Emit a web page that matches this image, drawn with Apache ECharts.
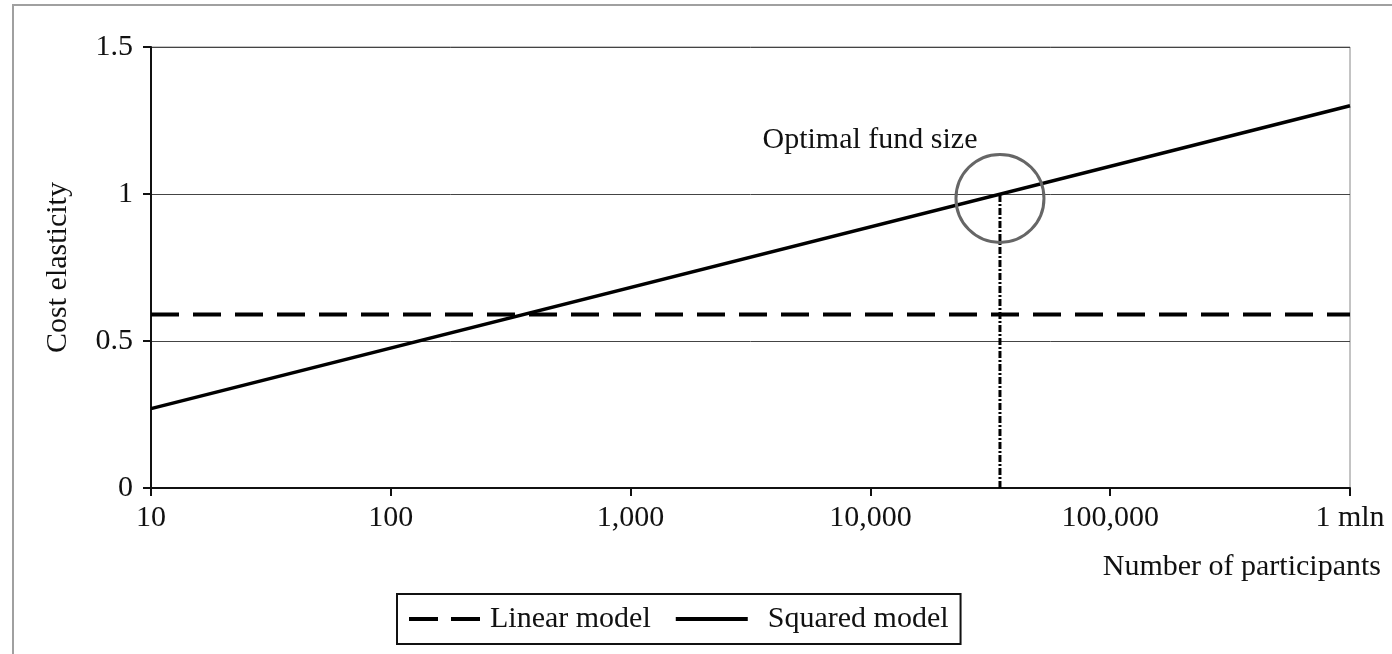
<!DOCTYPE html>
<html><head><meta charset="utf-8">
<script src="https://cdn.jsdelivr.net/npm/echarts@6/dist/echarts.min.js"></script>
<style>html,body{margin:0;padding:0;background:#fff}#c{width:1392px;height:654px}</style>
</head><body><div id="c"></div>
<script>
const xTicks = [10, 100, 1000, 10000, 100000, 1000000];
const xTickLabels = ['10', '100', '1,000', '10,000', '100,000', '1 mln'];
const linearX = [10, 1000000];
const linearY = [0.59, 0.59];
const squaredX = [10, 1000000];
const squaredY = [0.27, 1.30];
const optimalX = 34700;
const optimalY = [0, 1];
const circleY = 0.985;
const F = 'Liberation Serif';
const chart = echarts.init(document.getElementById('c'));
chart.setOption({
  animation: false,
  backgroundColor: '#fff',
  graphic: [{type:'rect', shape:{x:13,y:5,width:1400,height:700}, style:{fill:'none', stroke:'#a0a0a0', lineWidth:2}, silent:true}],
  title: {text:'Number of participants', right: 6, top: 547, textStyle:{fontFamily:F, fontSize:30, fontWeight:'normal', color:'#111'}},
  grid: {left:151, right:42, top:47, bottom:166, show:true, borderColor:'#888', borderWidth:1},
  legend: {
    data: [
      {name:'Linear model', itemStyle:{opacity:0}, lineStyle:{color:'#000', width:4, type:[29,13]}, textStyle:{padding:[0,0,0,4]}},
      {name:'Squared model', itemStyle:{opacity:0}, lineStyle:{color:'#000', width:4, type:'solid'}, textStyle:{padding:[0,0,0,15]}}
    ],
    bottom: 10, left: 397, orient:'horizontal',
    itemWidth: 72, itemHeight: 14, itemGap: 23,
    borderColor:'#111', borderWidth:2, padding:[10, 12, 10, 10],
    textStyle:{fontFamily:F, fontSize:30, color:'#111'}
  },
  xAxis: {
    type:'log', logBase:10, min:10, max:1000000,
    axisLine:{lineStyle:{color:'#111', width:2}},
    axisTick:{show:true, length:8, lineStyle:{color:'#111', width:2}},
    minorTick:{show:false}, splitLine:{show:false},
    axisLabel:{margin:15, fontFamily:F, fontSize:30, color:'#111',
      formatter: v => { const i = xTicks.findIndex(t => Math.abs(t - v) / t < 1e-6); return i >= 0 ? xTickLabels[i] : ''; }}
  },
  yAxis: {
    type:'value', min:0, max:1.5, interval:0.5,
    name:'Cost elasticity', nameLocation:'middle', nameGap:78,
    nameTextStyle:{fontFamily:F, fontSize:30, color:'#111'},
    axisLine:{show:true, lineStyle:{color:'#111', width:2}},
    axisTick:{show:true, length:8, lineStyle:{color:'#111', width:2}},
    splitLine:{show:true, lineStyle:{color:'#444', width:1}},
    axisLabel:{margin:18, fontFamily:F, fontSize:30, color:'#111', formatter: v => String(v)}
  },
  series: [
    {name:'Linear model', type:'line', symbol:'none', z:3,
      data: linearX.map((x,i)=>[x, linearY[i]]),
      lineStyle:{color:'#000', width:4, type:[28,14]}},
    {name:'Squared model', type:'line', symbol:'none', z:4,
      data: squaredX.map((x,i)=>[x, squaredY[i]]),
      lineStyle:{color:'#000', width:3.5}},
    {name:'optimal', type:'line', symbol:'none', z:2,
      data: optimalY.map(y=>[optimalX, y]),
      lineStyle:{color:'#000', width:3, type:[7,2,2,2]}},
    {name:'circle', type:'scatter', symbol:'circle', symbolSize:88, z:5,
      data:[[optimalX, circleY]],
      itemStyle:{color:'rgba(0,0,0,0)', borderColor:'#666', borderWidth:3, opacity:1},
      label:{show:true, position:'inside', offset:[-130,-58], formatter:'Optimal fund size', fontFamily:F, fontSize:30, color:'#111'}}
  ]
});
</script></body></html>
